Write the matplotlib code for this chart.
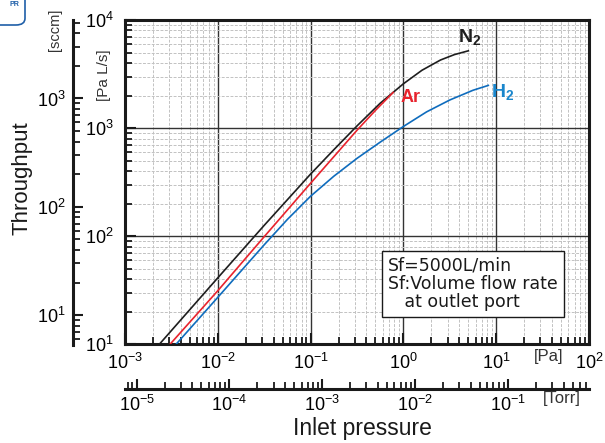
import numpy as np
import matplotlib
matplotlib.use("Agg")
import matplotlib.pyplot as plt
from matplotlib.ticker import LogLocator, NullFormatter, FuncFormatter
from matplotlib.patches import FancyBboxPatch

plt.rcParams['font.family'] = ['Liberation Sans', 'DejaVu Sans']
plt.rcParams['mathtext.fontset'] = 'custom'
plt.rcParams['mathtext.rm'] = 'Liberation Sans'
plt.rcParams['mathtext.bf'] = 'Liberation Sans:bold'
plt.rcParams['mathtext.default'] = 'regular'

# ---- data (inlet pressure [Pa], throughput [Pa L/s]) ----
n2_p = [2.344e-3, 0.01, 0.0316, 0.1, 0.178, 0.316, 0.562, 1.0, 1.585, 2.512, 3.548, 5.012]
n2_q = [10, 41.2, 125.9, 375.8, 631, 1047, 1698, 2570, 3428, 4266, 4786, 5188]
ar_p = [3.055e-3, 0.01, 0.0316, 0.1, 0.316, 0.501, 0.776]
ar_q = [10, 31.3, 98.9, 309, 955, 1462, 2138]
h2_p = [3.548e-3, 0.01, 0.0316, 0.0562, 0.1, 0.178, 0.316, 0.562, 1.0, 1.778, 3.162, 5.623, 8.222]
h2_q = [10, 27.2, 83.2, 142.9, 234.4, 358.9, 524.8, 741.3, 1035, 1413, 1820, 2239, 2483]

SCCM_PER_PA_L_S = 0.53      # as drawn on the left [sccm] scale
TORR_PER_PA = 1 / 133.322
x_range = (1e-3, 1e2)
y_range = (1e1, 1e4)

W, H = 605, 443
fig = plt.figure(figsize=(W / 100, H / 100), dpi=100)

def fx(px):
    return px / W

def fy(py):
    return 1 - py / H

L, R, T, B = 125, 589, 20, 344.3
ax = fig.add_axes([fx(L), fy(B), fx(R) - fx(L), fy(T) - fy(B)])
ax.set_xscale('log')
ax.set_yscale('log')
ax.set_xlim(*x_range)
ax.set_ylim(*y_range)

black = '#1e1e1e'
red = '#e8232d'
blue = '#0f6cbd'
ax.plot(n2_p, n2_q, color=black, lw=1.2, zorder=3, solid_joinstyle='round')
ax.plot(ar_p, ar_q, color=red, lw=1.2, zorder=3, solid_joinstyle='round')
ax.plot(h2_p, h2_q, color=blue, lw=1.2, zorder=3, solid_joinstyle='round')

ax.grid(True, which='minor', color='#c2c2c2', ls=(0, (3, 1.5)), lw=0.7)
ax.grid(True, which='major', color='#333333', ls='-', lw=1.0)
for s in ax.spines.values():
    s.set_linewidth(2.2)
    s.set_color('#1a1a1a')

ax.xaxis.set_major_locator(LogLocator(base=10, numticks=10))
ax.yaxis.set_major_locator(LogLocator(base=10, numticks=10))
ax.xaxis.set_minor_locator(LogLocator(base=10, subs=np.arange(2, 10), numticks=20))
ax.yaxis.set_minor_locator(LogLocator(base=10, subs=np.arange(2, 10), numticks=20))
ax.xaxis.set_minor_formatter(NullFormatter())
ax.yaxis.set_minor_formatter(NullFormatter())

def pow_fmt(v, pos):
    e = int(round(np.log10(v)))
    return r'$10^{%d}$' % e

ax.xaxis.set_major_formatter(FuncFormatter(pow_fmt))
ax.yaxis.set_major_formatter(FuncFormatter(pow_fmt))
ax.tick_params(which='both', direction='in', color='#1a1a1a', labelsize=13)
ax.tick_params(which='major', length=8, width=1.5)
ax.tick_params(which='minor', length=5, width=1.3)
ax.tick_params(axis='x', which='major', pad=6)
ax.tick_params(axis='y', which='major', pad=8)

# curve labels
ax.text(5.2, 6970, r'$\mathbf{N}_{\mathbf{2}}$', color=black, fontsize=14,
        ha='center', va='center')
ax.text(1.18, 1900, 'Ar', color=red, fontsize=13, ha='center', va='center',
        fontweight='bold')
ax.text(11.8, 2150, r'$\mathbf{H}_{\mathbf{2}}$', color='#1a86cc', fontsize=14,
        ha='center', va='center')

# text box
fig.text(fx(388), fy(257), 'Sf=5000L/min\nSf:Volume flow rate\n   at outlet port',
         fontsize=12.5, va='top', ha='left', family='DejaVu Sans',
         linespacing=1.0, zorder=5, color='#1a1a1a',
         bbox=dict(boxstyle='square,pad=0.35', fc='white', ec='#1a1a1a', lw=1.0))

# sccm axis
ax2 = fig.add_axes([fx(73), fy(345), 0.02, fy(20) - fy(345)])
ax2.set_yscale('log')
ax2.set_ylim(y_range[0] * SCCM_PER_PA_L_S, y_range[1] * SCCM_PER_PA_L_S)
ax2.patch.set_visible(False)
for k in ['right', 'top', 'bottom']:
    ax2.spines[k].set_visible(False)
ax2.spines['left'].set_linewidth(2.2)
ax2.spines['left'].set_color('#1a1a1a')
ax2.set_xticks([])
ax2.yaxis.set_major_locator(LogLocator(base=10, numticks=10))
ax2.yaxis.set_minor_locator(LogLocator(base=10, subs=np.arange(2, 10), numticks=20))
ax2.yaxis.set_major_formatter(FuncFormatter(pow_fmt))
ax2.yaxis.set_minor_formatter(NullFormatter())
ax2.tick_params(which='both', direction='in', color='#1a1a1a', labelsize=13)
ax2.tick_params(which='major', length=7, width=1.5, pad=5)
ax2.tick_params(which='minor', length=5, width=1.3)

# Torr axis
ax3 = fig.add_axes([fx(L), fy(389), fx(R) - fx(L), 0.02])
ax3.set_xscale('log')
ax3.set_xlim(x_range[0] * TORR_PER_PA, x_range[1] * TORR_PER_PA)
ax3.patch.set_visible(False)
for k in ['left', 'right', 'top']:
    ax3.spines[k].set_visible(False)
ax3.spines['bottom'].set_linewidth(2.2)
ax3.spines['bottom'].set_color('#1a1a1a')
ax3.set_yticks([])
ax3.xaxis.set_major_locator(LogLocator(base=10, numticks=10))
ax3.xaxis.set_minor_locator(LogLocator(base=10, subs=np.arange(2, 10), numticks=20))
ax3.xaxis.set_major_formatter(FuncFormatter(pow_fmt))
ax3.xaxis.set_minor_formatter(NullFormatter())
ax3.tick_params(which='both', direction='in', color='#1a1a1a', labelsize=13)
ax3.tick_params(which='major', length=7, width=1.5, pad=4)
ax3.tick_params(which='minor', length=5, width=1.3)

# unit labels and titles
fig.text(fx(549), fy(357), '[Pa]', fontsize=12, ha='center', va='center', color='#333333')
fig.text(fx(562), fy(399), '[Torr]', fontsize=12, ha='center', va='center', color='#333333')
fig.text(fx(362), fy(428), 'Inlet pressure', fontsize=16.5, ha='center', va='center',
         color='#1a1a1a')
fig.text(fx(22), fy(178), 'Throughput', fontsize=16, ha='center', va='center',
         rotation=90, color='#1a1a1a')
fig.text(fx(55), fy(30), '[sccm]', fontsize=10.5, ha='center', va='center',
         rotation=90, color='#333333')
fig.text(fx(104), fy(75), '[Pa L/s]', fontsize=11, ha='center', va='center',
         rotation=90, color='#333333')

# partial badge in the top-left corner
badge = FancyBboxPatch((fx(-40), fy(25)), fx(65), fy(-30) - fy(25),
                       boxstyle='round,pad=0,rounding_size=0.015',
                       transform=fig.transFigure, fc='white', ec='#1f5fa8', lw=1.2,
                       clip_on=False)
fig.patches.append(badge)
fig.text(fx(14), fy(0.5), 'PR', fontsize=5, color='#1f5fa8', fontweight='bold',
         ha='center', va='top')

fig.savefig('out.png', dpi=100)
